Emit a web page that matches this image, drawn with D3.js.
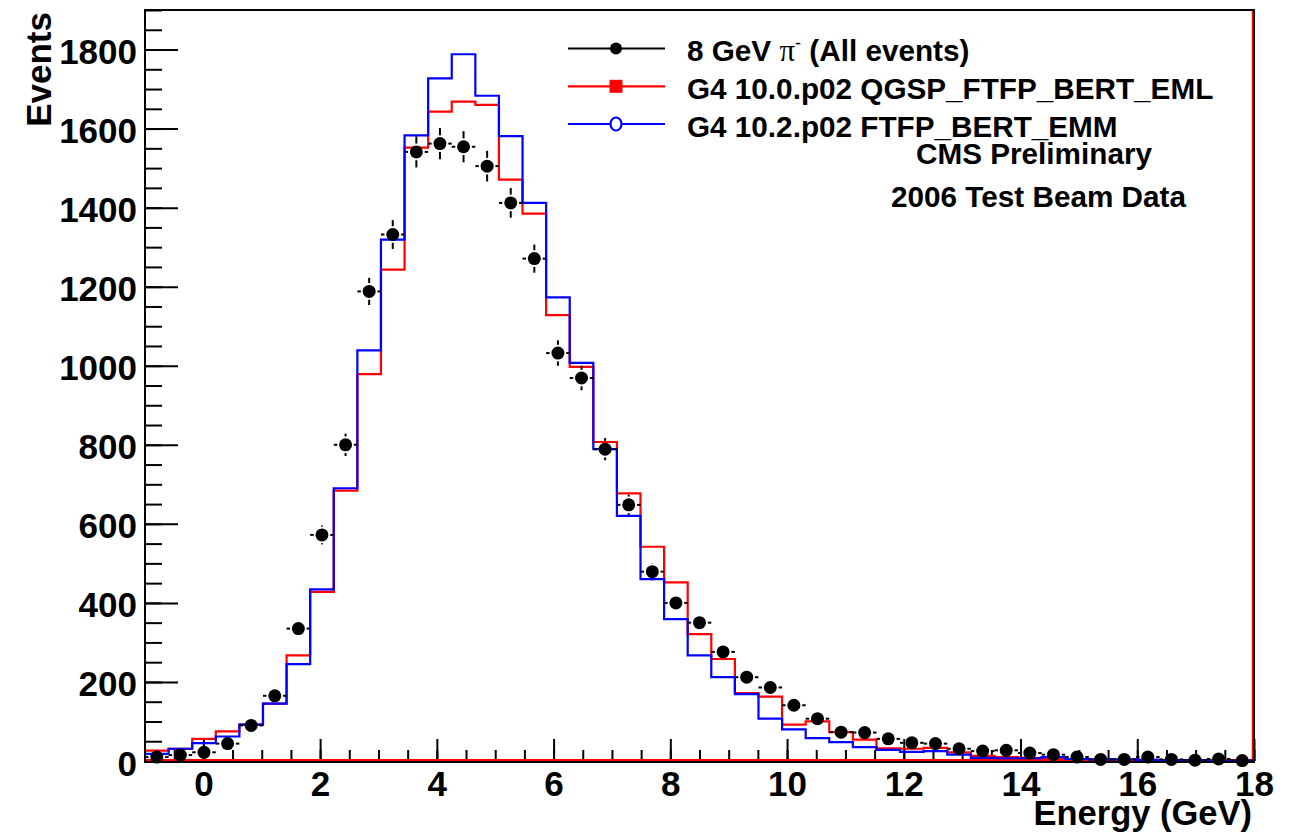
<!DOCTYPE html>
<html>
<head>
<meta charset="utf-8">
<script src="https://cdn.jsdelivr.net/npm/d3@7"></script>
<style>
  html, body { margin: 0; padding: 0; background: #fff; }
  svg { display: block; }
  text { font-family: "Liberation Sans", Arial, Helvetica, sans-serif; font-weight: bold; }
</style>
</head>
<body>
<svg id="chart" width="1301" height="835"></svg>
<script>
// ---------------- data ----------------
const xRange = [-1, 18];
const nBins = 47;
const yMax = 1900;

const dataCounts = [10, 15, 22, 44, 90, 165, 335, 572, 800, 1188, 1332, 1541, 1562, 1554, 1505, 1412,
  1271, 1032, 969, 789, 648, 479, 400, 350, 276, 212, 186, 141, 107, 73, 72, 56, 46, 44, 31, 25,
  27, 20, 16, 10, 4, 4, 10, 4, 2, 5, 1];

const g4_100_counts = [26, 31, 56, 75, 92, 145, 267, 428, 684, 979, 1243, 1552, 1643, 1668, 1660, 1471,
  1385, 1128, 997, 807, 677, 542, 452, 321, 258, 172, 163, 92, 100, 73, 54, 32, 31, 33, 22, 13,
  10, 8, 5, 3, 3, 3, 3, 2, 2, 1, 1];

const g4_102_counts = [18, 31, 45, 62, 92, 145, 245, 434, 690, 1039, 1319, 1583, 1727, 1788, 1683, 1581,
  1412, 1173, 1007, 789, 620, 460, 359, 267, 212, 169, 107, 80, 58, 48, 35, 28, 23, 25, 16, 8,
  7, 7, 10, 5, 4, 4, 3, 2, 2, 1, 1];

const xTickValues = [0, 2, 4, 6, 8, 10, 12, 14, 16, 18];
const yTickValues = [0, 200, 400, 600, 800, 1000, 1200, 1400, 1600, 1800];
const legendLabels = ["8 GeV ", "G4 10.0.p02 QGSP_FTFP_BERT_EML", "G4 10.2.p02 FTFP_BERT_EMM"];
const annotations = ["CMS Preliminary", "2006 Test Beam Data"];

// ---------------- layout ----------------
const svg = d3.select("#chart");
const pLeft = 145, pRight = 1254, pTop = 10, pBottom = 761;

const x = d3.scaleLinear().domain(xRange).range([pLeft, pRight]);
const y = d3.scaleLinear().domain([0, yMax]).range([pBottom, pTop]);

const binW = (xRange[1] - xRange[0]) / nBins;
const edges = d3.range(nBins + 1).map(k => xRange[0] + k * binW);
const centers = d3.range(nBins).map(k => xRange[0] + (k + 0.5) * binW);

// ---------------- axes ----------------
const minorY = d3.range(0, yMax + 1, 50);
svg.append("g").attr("transform", `translate(${pLeft},0)`)
  .call(d3.axisLeft(y).tickValues(minorY).tickSize(-17).tickFormat(""))
  .call(g => g.select(".domain").remove())
  .call(g => g.selectAll("line").attr("stroke", "#000").attr("stroke-width", 2));

svg.append("g").attr("transform", `translate(${pLeft},0)`)
  .call(d3.axisLeft(y).tickValues(yTickValues).tickSize(-33).tickPadding(8).tickFormat(d3.format("d")))
  .call(g => g.select(".domain").remove())
  .call(g => g.selectAll("line").attr("stroke", "#000").attr("stroke-width", 2))
  .call(g => g.selectAll("text").attr("font-size", 35).attr("dy", 14)
      .attr("font-family", "Liberation Sans, Arial, sans-serif").attr("font-weight", "bold").attr("fill", "#000"));

const minorX = d3.range(-0.5, 18.01, 0.5);
svg.append("g").attr("transform", `translate(0,${pBottom})`)
  .call(d3.axisBottom(x).tickValues(minorX).tickSize(-11).tickFormat(""))
  .call(g => g.select(".domain").remove())
  .call(g => g.selectAll("line").attr("stroke", "#000").attr("stroke-width", 2));

svg.append("g").attr("transform", `translate(0,${pBottom})`)
  .call(d3.axisBottom(x).tickValues(xTickValues).tickSize(-22).tickPadding(10).tickFormat(d3.format("d")))
  .call(g => g.select(".domain").remove())
  .call(g => g.selectAll("line").attr("stroke", "#000").attr("stroke-width", 2))
  .call(g => g.selectAll("text").attr("font-size", 35)
      .attr("font-family", "Liberation Sans, Arial, sans-serif").attr("font-weight", "bold").attr("fill", "#000"));

// ---------------- histograms ----------------
const stepLine = d3.line().x(d => x(d[0])).y(d => y(d[1])).curve(d3.curveStepAfter);
function histPoints(counts) {
  const p = counts.map((v, k) => [edges[k], v]);
  p.push([edges[nBins], counts[nBins - 1]]);
  return p;
}

// red zero-line / right edge line
svg.append("line").attr("x1", x(xRange[0])).attr("x2", x(xRange[1]) - 1)
  .attr("y1", y(0) - 1).attr("y2", y(0) - 1).attr("stroke", "#ff0000").attr("stroke-width", 2);
svg.append("line").attr("x1", x(xRange[1]) - 1.5).attr("x2", x(xRange[1]) - 1.5)
  .attr("y1", y(yMax)).attr("y2", y(0)).attr("stroke", "#ff0000").attr("stroke-width", 1.5);

svg.append("path").datum(histPoints(g4_100_counts)).attr("d", stepLine)
  .attr("fill", "none").attr("stroke", "#ff0000").attr("stroke-width", 2.2);
svg.append("path").datum(histPoints(g4_102_counts)).attr("d", stepLine)
  .attr("fill", "none").attr("stroke", "#0000ff").attr("stroke-width", 2.2);

// ---------------- data points ----------------
const r = 6.5;
const gap = 1.8;
const ptsG = svg.append("g");
dataCounts.forEach((v, k) => {
  const cx = x(centers[k]), cy = y(v);
  const e = Math.sqrt(v);
  const yt = y(v + e), yb = y(v - e);
  const xl = x(edges[k]), xr = x(edges[k + 1]);
  const segs = [];
  if (cy - yt > r + gap) segs.push([cx, yt, cx, cy - r - gap]);
  if (yb - cy > r + gap) segs.push([cx, cy + r + gap, cx, yb]);
  if (cx - xl > r + gap) segs.push([xl, cy, cx - r - gap, cy]);
  if (xr - cx > r + gap) segs.push([cx + r + gap, cy, xr, cy]);
  segs.forEach(s => ptsG.append("line").attr("x1", s[0]).attr("y1", s[1]).attr("x2", s[2]).attr("y2", s[3])
    .attr("stroke", "#000").attr("stroke-width", 2));
  ptsG.append("circle").attr("cx", cx).attr("cy", cy).attr("r", r).attr("fill", "#000");
});

// ---------------- frame ----------------
svg.append("rect").attr("x", pLeft).attr("y", pTop).attr("width", pRight - pLeft).attr("height", pBottom + 1 - pTop)
  .attr("fill", "none").attr("stroke", "#000").attr("stroke-width", 2);

// ---------------- axis titles ----------------
svg.append("text").attr("x", 1252).attr("y", 825).attr("text-anchor", "end")
  .attr("font-size", 34.5).text("Energy (GeV)");
svg.append("text").attr("transform", "translate(51,12) rotate(-90)").attr("text-anchor", "end")
  .attr("font-size", 35).text("Events");

// ---------------- legend ----------------
const legY = [48.5, 86.3, 124];
const legColors = ["#000", "#ff0000", "#0000ff"];
const fs = 29.7;
const lg = svg.append("g");
legY.forEach((ly, i) => {
  lg.append("line").attr("x1", 568).attr("x2", 665).attr("y1", ly).attr("y2", ly)
    .attr("stroke", legColors[i]).attr("stroke-width", 2.2);
});
lg.append("circle").attr("cx", 616).attr("cy", legY[0]).attr("r", 6).attr("fill", "#000");
lg.append("rect").attr("x", 609.5).attr("y", legY[1] - 6.5).attr("width", 13).attr("height", 13).attr("fill", "#ff0000");
lg.append("ellipse").attr("cx", 616).attr("cy", legY[2]).attr("rx", 5.5).attr("ry", 6.5)
  .attr("fill", "#fff").attr("stroke", "#0000ff").attr("stroke-width", 2.2);

const t0 = lg.append("text").attr("x", 687).attr("y", legY[0] + 12.5).attr("font-size", fs);
t0.append("tspan").text(legendLabels[0]);
t0.append("tspan").attr("font-family", "Liberation Serif, Times New Roman, serif").attr("font-weight", "normal")
  .attr("font-size", 31).text("π");
t0.append("tspan").attr("font-size", 18).attr("dy", -12).attr("font-weight", "normal").text("-");
t0.append("tspan").attr("dy", 12).text(" (All events)");

lg.append("text").attr("x", 687).attr("y", legY[1] + 12.5).attr("font-size", fs).text(legendLabels[1]);
lg.append("text").attr("x", 687).attr("y", legY[2] + 12.5).attr("font-size", fs).text(legendLabels[2]);

svg.append("text").attr("x", 1034).attr("y", 163.5).attr("text-anchor", "middle").attr("font-size", fs).text(annotations[0]);
svg.append("text").attr("x", 1038.5).attr("y", 206.5).attr("text-anchor", "middle").attr("font-size", fs).text(annotations[1]);
</script>
</body>
</html>
